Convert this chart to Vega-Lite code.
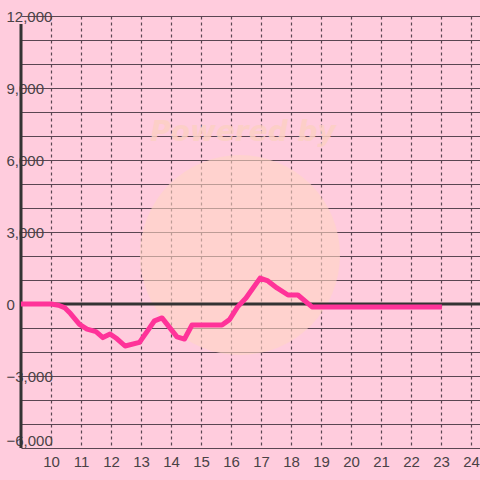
{
  "$schema": "https://vega.github.io/schema/vega-lite/v6.json",
  "autosize": "none",
  "width": 459,
  "height": 432,
  "padding": {"left": 21, "top": 16, "right": 0, "bottom": 32},
  "background": "#ffccdd",
  "config": {
    "view": {"stroke": null},
    "axis": {"labelFont": "Liberation Sans", "labelFontSize": 15, "labelColor": "#4a4246", "ticks": false, "labelOverlap": false, "labelFlush": false}
  },
  "datasets": {
    "series": [
      {"h": 9.0, "v": 0},
      {"h": 10.0, "v": 0},
      {"h": 10.25, "v": -50},
      {"h": 10.45, "v": -150},
      {"h": 10.65, "v": -400},
      {"h": 10.95, "v": -850},
      {"h": 11.2, "v": -1050},
      {"h": 11.5, "v": -1150},
      {"h": 11.73, "v": -1400},
      {"h": 11.97, "v": -1250},
      {"h": 12.2, "v": -1450},
      {"h": 12.47, "v": -1750},
      {"h": 12.95, "v": -1600},
      {"h": 13.2, "v": -1150},
      {"h": 13.45, "v": -700},
      {"h": 13.7, "v": -580},
      {"h": 14.2, "v": -1370},
      {"h": 14.45, "v": -1460},
      {"h": 14.7, "v": -875},
      {"h": 15.7, "v": -875},
      {"h": 15.95, "v": -650},
      {"h": 16.22, "v": -120},
      {"h": 16.5, "v": 250},
      {"h": 16.97, "v": 1080},
      {"h": 17.23, "v": 960},
      {"h": 17.53, "v": 670},
      {"h": 17.9, "v": 375},
      {"h": 18.23, "v": 375},
      {"h": 18.7, "v": -120},
      {"h": 20.0, "v": -120},
      {"h": 21.0, "v": -120},
      {"h": 22.0, "v": -120},
      {"h": 23.03, "v": -120}
    ],
    "logo": [{"h": 16.3, "v": 2040}],
    "caption": [{"h": 16.4, "v": 7125, "t": "Powered by"}],
    "zero": [{"h": 9, "v": 0}, {"h": 24.3, "v": 0}],
    "yline": [{"h": 9, "v": -6000}, {"h": 9, "v": 11670}]
  },
  "encoding": {
    "x": {"field": "h", "type": "quantitative", "scale": {"domain": [9, 24.3], "nice": false, "zero": false},
      "axis": {"values": [10,11,12,13,14,15,16,17,18,19,20,21,22,23,24], "format": "d", "domain": false,
        "grid": true, "gridColor": "#5a4652", "gridDash": [3, 3], "gridWidth": 1.2, "labelPadding": 6, "title": null}},
    "y": {"field": "v", "type": "quantitative", "scale": {"domain": [-6000, 12000], "nice": false},
      "axis": {"values": [-6000,-5000,-4000,-3000,-2000,-1000,0,1000,2000,3000,4000,5000,6000,7000,8000,9000,10000,11000,12000],
        "labelExpr": "datum.value % 3000 == 0 ? datum.label : ''", "domain": false,
        "grid": true, "gridColor": "#5a4652", "gridWidth": 1.2, "labelAlign": "left", "labelPadding": 15,
        "labelBaseline": {"condition": {"test": "datum.value == -6000", "value": "bottom"}, "value": "middle"},
        "title": null}}
  },
  "layer": [
    {
      "data": {"name": "logo"},
      "mark": {"type": "point", "shape": "circle", "filled": true, "size": 40000, "color": "#ffd6c4", "opacity": 0.6}
    },
    {
      "data": {"name": "caption"},
      "mark": {"type": "text", "font": "DejaVu Sans", "fontSize": 28, "fontWeight": "bold", "fontStyle": "italic", "color": "#fcd0c4", "opacity": 0.85},
      "encoding": {"text": {"field": "t"}}
    },
    {
      "data": {"name": "yline"},
      "mark": {"type": "line", "color": "#333333", "strokeWidth": 3}
    },
    {
      "data": {"name": "zero"},
      "mark": {"type": "line", "color": "#333333", "strokeWidth": 3}
    },
    {
      "data": {"name": "series"},
      "mark": {"type": "line", "color": "#ff3399", "strokeWidth": 5, "strokeJoin": "round", "strokeCap": "butt"}
    }
  ]
}
